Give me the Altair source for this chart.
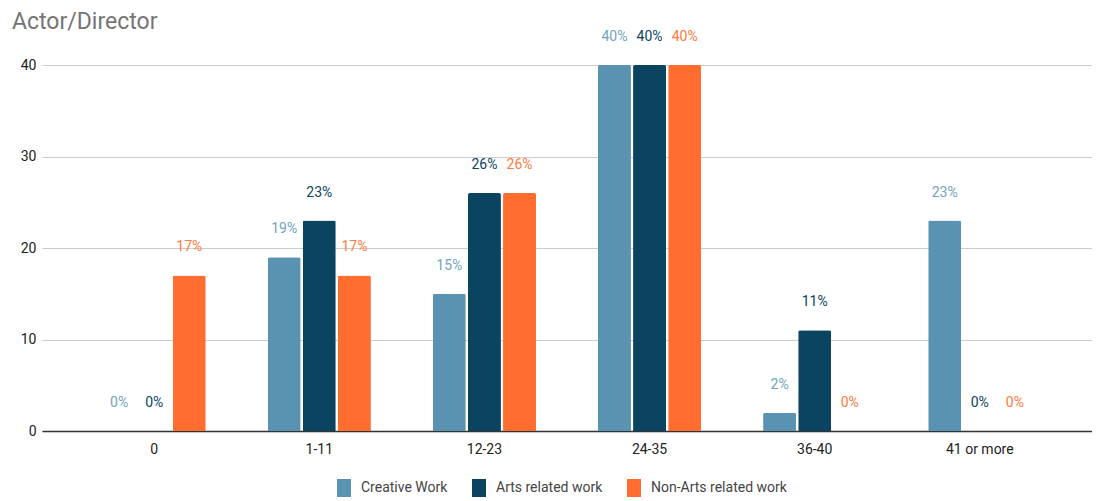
import altair as alt
import pandas as pd

categories = ["0", "1-11", "12-23", "24-35", "36-40", "41 or more"]
series = ["Creative Work", "Arts related work", "Non-Arts related work"]
creative = [0, 19, 15, 40, 2, 23]
arts = [0, 23, 26, 40, 11, 0]
nonarts = [17, 17, 26, 40, 0, 0]
colors = ["#5a93b1", "#0b4461", "#ff6d31"]
label_colors = ["#6fa3c0", "#0b4461", "#ff7a3d"]

rows = []
for s, vals in zip(series, [creative, arts, nonarts]):
    for c, v in zip(categories, vals):
        rows.append({"cat": c, "series": s, "value": v, "label": f"{v}%"})
df = pd.DataFrame(rows)

FONT = "Roboto"

x = alt.X("cat:N", sort=categories, title=None,
          scale=alt.Scale(paddingInner=0.375, paddingOuter=0.367),
          axis=alt.Axis(labelAngle=0, ticks=False, domainColor="#333333",
                        labelColor="#222222", labelFontSize=14, labelFont=FONT,
                        labelPadding=11, domainWidth=1.5))
xo = alt.XOffset("series:N", sort=series, scale=alt.Scale(paddingInner=0.06))
y = alt.Y("value:Q", title=None,
          scale=alt.Scale(domain=[0, 40]),
          axis=alt.Axis(values=[0, 10, 20, 30, 40], ticks=False, domain=False,
                        gridColor="#cccccc", labelColor="#222222",
                        labelFontSize=14, labelFont=FONT, labelPadding=6))

bars = alt.Chart(df).mark_bar(cornerRadiusTopLeft=2, cornerRadiusTopRight=2).encode(
    x=x, xOffset=xo, y=y,
    color=alt.Color("series:N", sort=series,
                    scale=alt.Scale(domain=series, range=colors),
                    legend=alt.Legend(orient="none", legendX=293, legendY=414,
                                      direction="horizontal", title=None,
                                      symbolType="M-0.78,-1L0.78,-1L0.78,1L-0.78,1Z",
                                      symbolSize=324, labelFontSize=14, labelFont=FONT,
                                      labelColor="#444444", columnPadding=22,
                                      symbolStrokeWidth=0, padding=0, labelOffset=8)),
)

labels = alt.Chart(df).mark_text(dy=-28, fontSize=14, font=FONT, baseline="middle").encode(
    x=x, xOffset=xo, y=y,
    text="label:N",
    color=alt.Color("series:N", sort=series,
                    scale=alt.Scale(domain=series, range=label_colors), legend=None),
)

chart = alt.layer(bars, labels).resolve_scale(color="independent").properties(
    width=1050, height=366,
    autosize=alt.AutoSizeParams(type="none"),
    padding={"left": 34, "top": 57, "right": 0, "bottom": 66},
    title=alt.TitleParams("Actor/Director", anchor="start", fontSize=23, font=FONT,
                          fontWeight="normal", color="#757575", offset=-4, dx=-30,
                          frame="group"),
).configure_view(stroke=None)

chart.save("out.html", embed_options={"renderer": "svg", "actions": False})
